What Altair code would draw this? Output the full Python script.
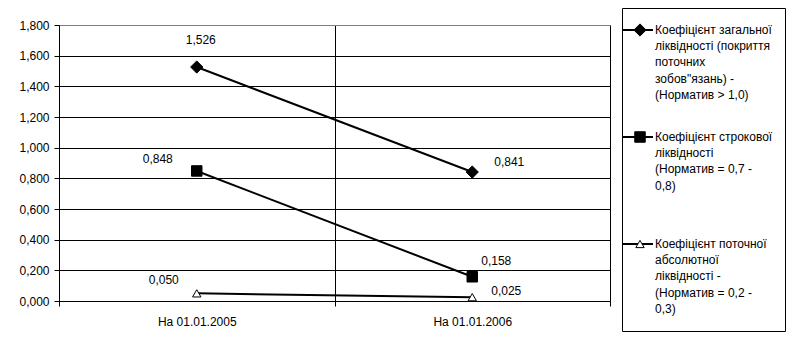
import altair as alt
import pandas as pd

dates = ["На 01.01.2005", "На 01.01.2006"]
legend_lines = [
    ["Коефіцієнт загальної", "ліквідності (покриття", "поточних", "зобов\"язань) -", "(Норматив > 1,0)"],
    ["Коефіцієнт строкової", "ліквідності", "(Норматив = 0,7 -", "0,8)"],
    ["Коефіцієнт поточної", "абсолютної", "ліквідності -", "(Норматив = 0,2 -", "0,3)"],
]
series = [" ".join(l) for l in legend_lines]
general_liq = [1.526, 0.841]
term_liq = [0.848, 0.158]
absolute_liq = [0.050, 0.025]
y_ticks = [0.0, 0.2, 0.4, 0.6, 0.8, 1.0, 1.2, 1.4, 1.6, 1.8]

values = [general_liq, term_liq, absolute_liq]
rows = []
for s, vals in zip(series, values):
    for d, v in zip(dates, vals):
        rows.append({"series": s, "date": d, "value": v})
df = pd.DataFrame(rows)

legend_df = pd.DataFrame({
    "series": series,
    "idx": list(range(len(series))),
    "text": ["\n".join(l) for l in legend_lines],
})

FONT = "Liberation Sans"
FS = 12

shape_scale = alt.Scale(domain=series, range=["diamond", "square", "triangle-up"])
fill_scale = alt.Scale(domain=series, range=["black", "black", "white"])
size_scale = alt.Scale(domain=series, range=[150, 70, 130])

x_enc = alt.X(
    "date:N", sort=dates,
    scale=alt.Scale(type="band", paddingInner=0, paddingOuter=0),
    axis=alt.Axis(
        title=None, labelAngle=0, tickBand="extent", grid=True,
        gridColor={"condition": {"test": "datum.extra", "value": "#808080"}, "value": "black"},
        domainColor="black", tickColor="black", tickSize=5, labelPadding=10,
        labelFont=FONT, labelFontSize=FS, labelColor="black",
    ),
)
y_enc = alt.Y(
    "value:Q",
    scale=alt.Scale(domain=[0, 1.8], nice=False, zero=True),
    axis=alt.Axis(
        title=None, values=y_ticks, grid=True,
        gridColor={"condition": {"test": "datum.value > 1.79", "value": "#808080"}, "value": "black"},
        labelExpr="replace(format(datum.value, '.3f'), '.', ',')",
        domainColor="black", tickColor="black", tickSize=5, labelPadding=5,
        labelFont=FONT, labelFontSize=FS, labelColor="black",
    ),
)

base = alt.Chart(df).encode(x=x_enc, y=y_enc)

lines = base.mark_line(color="black", strokeWidth=2).encode(detail="series:N")
points = base.mark_point(filled=False, stroke="black", strokeWidth=1, opacity=1).encode(
    shape=alt.Shape("series:N", scale=shape_scale, legend=None),
    fill=alt.Fill("series:N", scale=fill_scale, legend=None),
    size=alt.Size("series:N", scale=size_scale, legend=None),
)

offsets = [
    (0, 0, 4, -27), (0, 1, 37, -10),
    (1, 0, -39, -12), (1, 1, 24, -16),
    (2, 0, -33, -13), (2, 1, 34, -6),
]
label_layers = []
for si, di, dx, dy in offsets:
    label_layers.append(
        base.mark_text(font=FONT, fontSize=FS, color="black", dx=dx, dy=dy,
                       align="center", baseline="middle")
        .transform_filter(
            (alt.datum.series == series[si]) & (alt.datum.date == dates[di])
        )
        .transform_calculate(lbl="replace(format(datum.value, '.3f'), '.', ',')")
        .encode(text="lbl:N")
    )

plot = alt.layer(lines, points, *label_layers).properties(
    width=551, height=276, view=alt.ViewBackground(stroke="#808080", strokeWidth=1)
)

spacer = alt.Chart(pd.DataFrame({"s": [0]})).mark_point(opacity=0).encode(
    x=alt.value(0), y=alt.value(0)
).properties(width=551, height=9, view=alt.ViewBackground(stroke="transparent"))

left = alt.vconcat(spacer, plot, spacing=0)

ly = alt.Y("idx:Q", scale=alt.Scale(domain=[0, 2], range=[22, 236]), axis=None)
lbase = alt.Chart(legend_df).encode(y=ly)
leg_rule = lbase.mark_rule(color="black", strokeWidth=2).encode(x=alt.value(1), x2=alt.value(31))
leg_pts = lbase.mark_point(filled=False, stroke="black", strokeWidth=1, opacity=1).encode(
    x=alt.value(18),
    shape=alt.Shape("series:N", scale=shape_scale, legend=None),
    fill=alt.Fill("series:N", scale=fill_scale, legend=None),
    size=alt.Size("series:N", scale=size_scale, legend=None),
)
leg_text = lbase.mark_text(
    font=FONT, fontSize=FS, color="black", align="left", baseline="line-top",
    lineBreak="\n", lineHeight=16.2, dy=-8,
).encode(x=alt.value(33), text="text:N")
legend_panel = alt.layer(leg_rule, leg_pts, leg_text).properties(
    width=163, height=323, view=alt.ViewBackground(stroke="black", strokeWidth=1)
)

chart = alt.hconcat(left, legend_panel, spacing=10).resolve_scale(
    x="independent", y="independent"
).properties(
    padding={"left": 18, "top": 4, "right": 0, "bottom": 0}
).configure_view(stroke="transparent").configure(background="white")

chart.save("out.html", embed_options={"renderer": "svg", "actions": False})
